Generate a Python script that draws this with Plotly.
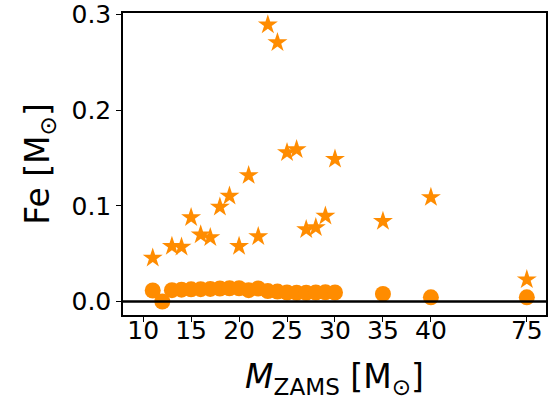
import plotly.graph_objects as go

# Data
mass_star = [11, 13, 14, 15, 16, 17, 18, 19, 20, 21, 22, 23, 24, 25, 26, 27, 28, 29, 30, 35, 40, 75]
fe_star = [0.0457, 0.058, 0.057, 0.088, 0.070, 0.067, 0.099, 0.1105, 0.058, 0.132, 0.068,
           0.2895, 0.271, 0.156, 0.159, 0.0755, 0.0775, 0.0895, 0.149, 0.084, 0.109, 0.023]
mass_circ = [11, 12, 13, 14, 15, 16, 17, 18, 19, 20, 21, 22, 23, 24, 25, 26, 27, 28, 29, 30, 35, 40, 75]
fe_circ = [0.0116, 0.0, 0.012, 0.0125, 0.0128, 0.013, 0.0133, 0.0137, 0.014, 0.014, 0.012, 0.0137,
           0.011, 0.0105, 0.0095, 0.0093, 0.0093, 0.0095, 0.0098, 0.0095, 0.008, 0.0045, 0.0045]
tick_masses = [10, 15, 20, 25, 30, 35, 40, 75]
y_ticks = [0.0, 0.1, 0.2, 0.3]


def xpos(m):
    # axis is compressed beyond 40: 75 is drawn 10 units after 40
    return m if m <= 40 else 50


color = "#FF8C00"
font = "DejaVu Sans"

fig = go.Figure()
fig.add_trace(go.Scatter(
    x=[xpos(m) for m in mass_circ], y=fe_circ, mode="markers",
    marker=dict(symbol="circle", size=16, color=color, line=dict(width=0)),
    showlegend=False))
fig.add_trace(go.Scatter(
    x=[xpos(m) for m in mass_star], y=fe_star, mode="markers",
    marker=dict(symbol="star", size=15, color=color, line=dict(width=0)),
    showlegend=False))

fig.add_hline(y=0, line=dict(color="black", width=2.5), layer="above")

fig.update_layout(
    width=556, height=400,
    margin=dict(l=123, r=10, t=13, b=85, autoexpand=False),
    plot_bgcolor="white", paper_bgcolor="white",
    font=dict(family=font, color="black", size=25),
)
fig.update_xaxes(
    range=[7.9, 52.0],
    tickmode="array",
    tickvals=[xpos(m) for m in tick_masses],
    ticktext=[str(m) for m in tick_masses],
    ticks="outside", ticklen=5, tickwidth=1, tickcolor="black",
    ticklabelstandoff=-13,
    showline=True, linecolor="black", linewidth=1.5, mirror=True,
    showgrid=False, zeroline=False, automargin=False,
    tickfont=dict(size=25),
    title=dict(text="<i>M</i><sub>ZAMS</sub> [M<sub>⊙</sub>]", font=dict(size=33), standoff=21),
)
fig.update_yaxes(
    range=[-0.014, 0.3018],
    tickmode="array",
    tickvals=y_ticks,
    ticktext=[f"{v:.1f}" for v in y_ticks],
    ticks="outside", ticklen=5, tickwidth=1, tickcolor="black",
    showline=True, linecolor="black", linewidth=1.5, mirror=True,
    showgrid=False, zeroline=False, automargin=False,
    tickfont=dict(size=25),
    title=dict(text="Fe [M<sub>⊙</sub>]", font=dict(size=33), standoff=12),
)

fig.write_html("out.html")
